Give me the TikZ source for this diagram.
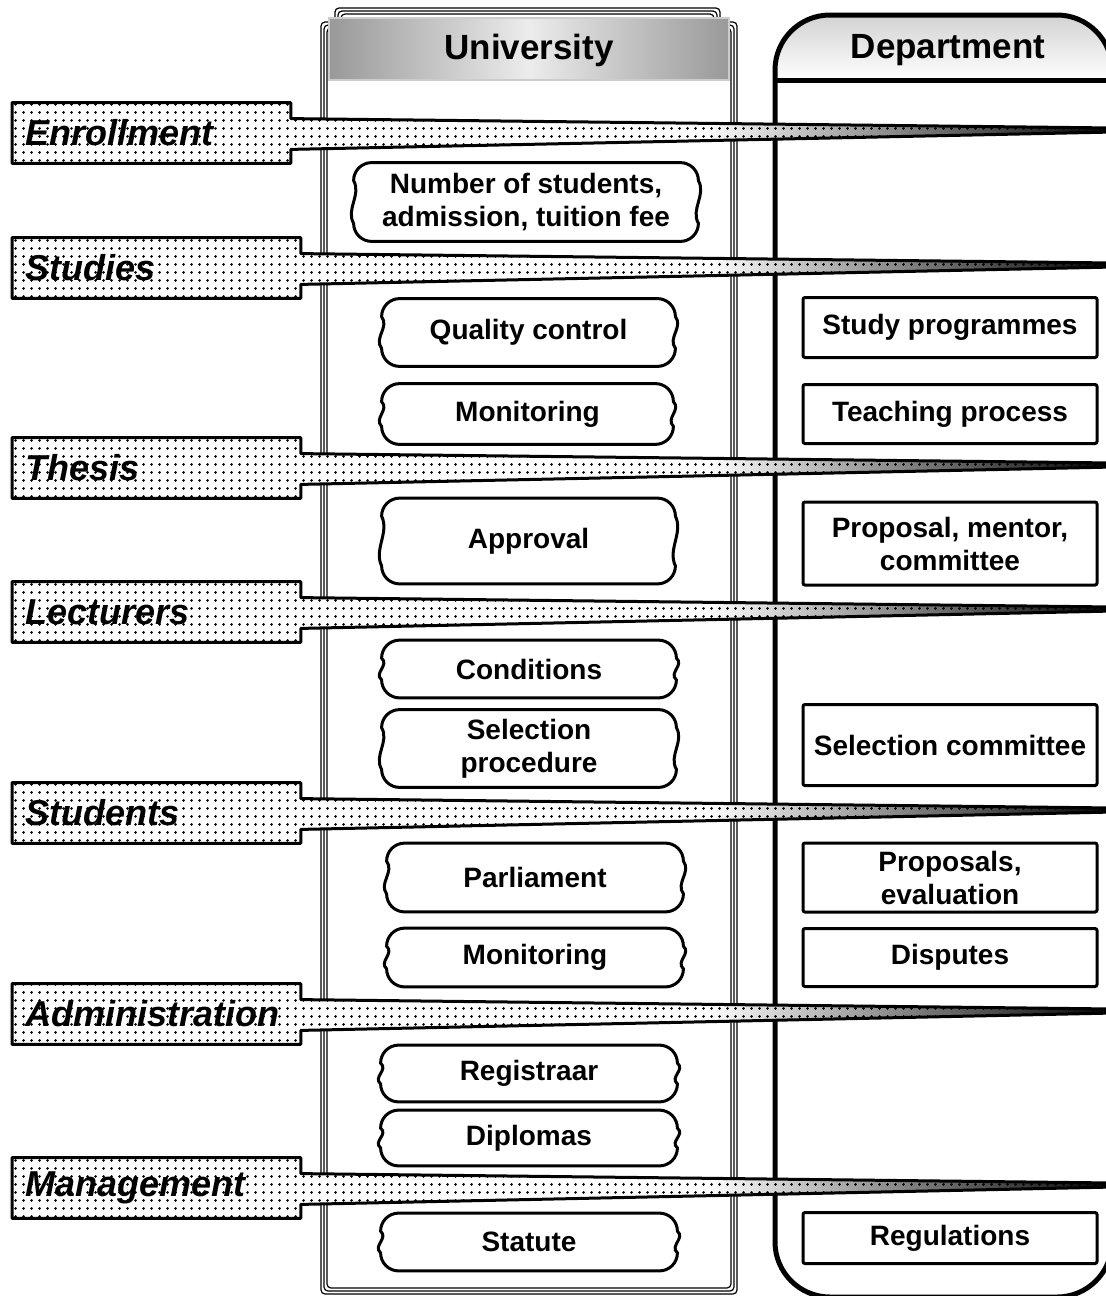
\documentclass[tikz,border=0pt]{standalone}
\usepackage{fontspec}
\setmainfont{Liberation Sans}
\usetikzlibrary{calc,patterns.meta,fadings}
\pgfdeclarelayer{bg}
\pgfdeclarelayer{mid}
\pgfsetlayers{bg,mid,main}
\tikzfading[name=tipfade, left color=transparent!100, right color=transparent!0]

\tikzset{
  unibox/.style={align=center, inner sep=0pt, font=\fontsize{14}{16.5}\selectfont\bfseries},
  depbox/.style={draw, line width=1.5pt, rounded corners=1pt, align=center, inner sep=0pt,
    minimum width=147pt, font=\fontsize{14}{16.5}\selectfont\bfseries},
  catbox/.style={anchor=west, inner xsep=6.5pt, inner ysep=0pt, minimum height=30pt, align=left,
    font=\fontsize{18}{20}\selectfont\bfseries\itshape},
  catshape/.style={draw, line width=1.5pt, line join=round, preaction={fill=white},
    pattern={Dots[distance=4pt,radius=0.8pt]}},
  waveline/.style={draw, line width=1.5pt},
  frameline/.style={line width=0.6pt, rounded corners=2pt},
  headtext/.style={font=\fontsize{17.5}{20}\selectfont\bfseries}
}

% wavy-sided outline round a university node
\newcommand{\wavy}[1]{%
  \draw[waveline] let \p1=(#1.north west), \p2=(#1.south east), \n1={(\y1-\y2-18pt)/3} in
    ({\x1+9pt},\y1) -- ({\x2-9pt},\y1) arc[start angle=90,end angle=0,radius=9pt]
    .. controls ({\x2+4pt},{\y1-9pt-\n1*1pt}) and ({\x2-4pt},{\y2+9pt+\n1*1pt}) .. (\x2,{\y2+9pt})
    arc[start angle=0,end angle=-90,radius=9pt] -- ({\x1+9pt},\y2)
    arc[start angle=270,end angle=180,radius=9pt]
    .. controls ({\x1-4pt},{\y2+9pt+\n1*1pt}) and ({\x1+4pt},{\y1-9pt-\n1*1pt}) .. (\x1,{\y1-9pt})
    arc[start angle=180,end angle=90,radius=9pt] -- cycle;}

\begin{document}
\begin{tikzpicture}[x=0.5pt,y=-0.5pt]
  \useasboundingbox (0,0) rectangle (1106,1296);
  \coordinate (rim) at (1114,0);

  % columns
  \begin{pgfonlayer}{bg}
    \foreach \d in {0,3,6}
      \draw[frameline] (335+\d,8+\d) -- (720-\d,8+\d) -- (720-\d,22+\d) -- (737-\d,22+\d)
        -- (737-\d,1294-\d) -- (321+\d,1294-\d) -- (321+\d,22+\d) -- (335+\d,22+\d) -- cycle;
    \fill[left color=gray!80, right color=gray!80, middle color=gray!15] (329,18) rectangle (729,80);
    \draw[gray!40, line width=0.6pt] (329,18) rectangle (729,80);
    \begin{scope}
      \clip[rounded corners=27.5pt] (775,15) rectangle (1112,1297);
      \fill[top color=gray!35, bottom color=white] (775,15) rectangle (1112,80);
    \end{scope}
    \draw[line width=2.5pt, rounded corners=27.5pt] (775,15) rectangle (1112,1297);
    \draw[line width=2.5pt] (775,80) -- (1112,80);
  \end{pgfonlayer}
  \node[headtext] (uni) at (529,50) {University};
  \node[headtext] (dep) at (948,50) {Department};

  % university
  \node[unibox, minimum width=172pt, minimum height=39pt] (nst) at (526,202) {Number of students,\\admission, tuition fee};
  \node[unibox, minimum width=146.5pt, minimum height=33.5pt] (qc) at (528.5,332.5) {Quality control};
  \node[unibox, minimum width=145.5pt, minimum height=30pt] (mona) at (527.5,414) {Monitoring};
  \node[unibox, minimum width=146.5pt, minimum height=42.5pt] (app) at (528.5,541) {Approval};
  \node[unibox, minimum width=147pt, minimum height=28.5pt] (cond) at (529,669) {Conditions};
  \node[unibox, minimum width=147pt, minimum height=38.5pt] (selp) at (529,748.5) {Selection\\procedure};
  \node[unibox, minimum width=148pt, minimum height=34pt] (parl) at (535,877.5) {Parliament};
  \node[unibox, minimum width=148pt, minimum height=29pt] (monb) at (535,957.5) {Monitoring};
  \node[unibox, minimum width=148pt, minimum height=28pt] (reg) at (529,1073.5) {Registraar};
  \node[unibox, minimum width=148pt, minimum height=27.5pt] (dip) at (529,1138) {Diplomas};
  \node[unibox, minimum width=148pt, minimum height=28.5pt] (stat) at (529,1242) {Statute};
  \foreach \u in {nst,qc,mona,app,cond,selp,parl,monb,reg,dip,stat}
    \wavy{\u};

  % department
  \node[depbox, minimum height=30pt] (sp) at (950,327.5) {Study programmes};
  \node[depbox, minimum height=29.5pt] (tp) at (950,414) {Teaching process};
  \node[depbox, minimum height=41.5pt] (pmc) at (950,543.5) {Proposal, mentor,\\committee};
  \node[depbox, minimum height=40.5pt] (sc) at (950,745) {Selection committee};
  \node[depbox, minimum height=34.5pt] (pe) at (950,877.5) {Proposals,\\evaluation};
  \node[depbox, minimum height=29pt] (dis) at (950,957.5) {Disputes};
  \node[depbox, minimum height=25.5pt] (regl) at (950,1238) {Regulations};

  % categories
  \node[catbox, text width=126pt] (enr) at (12,133) {Enrollment};
  \node[catbox, text width=131pt] (stu) at (12,268) {Studies};
  \node[catbox, text width=131pt] (the) at (12,468) {Thesis};
  \node[catbox, text width=131pt] (lec) at (12,612) {Lecturers};
  \node[catbox, text width=131pt] (sdt) at (12,813) {Students};
  \node[catbox, text width=131pt] (adm) at (12,1014) {Administration};
  \node[catbox, text width=131pt] (man) at (12,1188) {Management};
  \begin{pgfonlayer}{mid}
    \foreach \c in {enr,stu,the,lec,sdt,adm,man}{
      \draw[catshape] let \p1=(\c.north west), \p2=(\c.south east), \p3=(\c.east), \p4=(rim),
          \p5=(\x2,{\y1-8pt}), \p6=(\x4,{\y3+2.5pt}), \p7=(\x4,{\y3+0.5pt}), \p8=(\x2,{\y2+7pt}) in
        (\x1,\y1) -- (\x2,\y1) -- (\p5) -- (\p6) -- (\p7) -- (\p8) -- (\x2,\y2) -- (\x1,\y2) -- cycle;
      \fill[black, path fading=tipfade] let \p1=(\c.north west), \p2=(\c.south east), \p3=(\c.east), \p4=(rim),
          \p5=(\x2,{\y1-8pt}), \p6=(\x4,{\y3+2.5pt}), \p7=(\x4,{\y3+0.5pt}), \p8=(\x2,{\y2+7pt}) in
        ($(\p5)!0.5!(\p6)$) -- (\p6) -- (\p7) -- ($(\p8)!0.5!(\p7)$) -- cycle;
    }
  \end{pgfonlayer}
\end{tikzpicture}
\end{document}
